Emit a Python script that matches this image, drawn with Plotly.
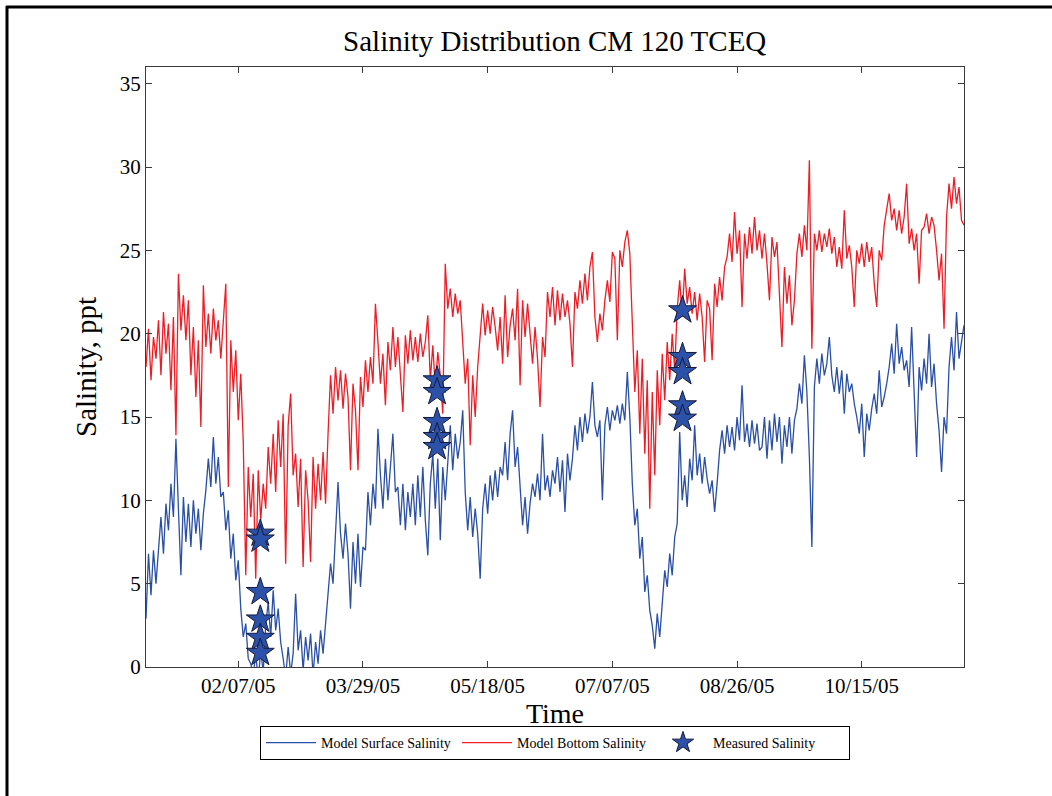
import numpy as np
import pandas as pd
import plotly.graph_objects as go

# ---------------- data (daily readings, starting 2005-01-01) ----------------
start_date = "2005-01-01"

bottom_salinity = [
    18.0, 20.3, 17.2, 19.8, 18.5,
    20.8, 17.5, 21.3, 18.8, 20.6, 16.6, 21.0,
    13.9, 23.6, 20.2, 22.3, 19.6, 22.0,
    17.5, 20.4, 16.2, 19.6, 14.4,
    22.9, 19.2, 21.2, 18.8, 21.5, 19.6, 20.8, 18.5, 21.0,
    23.0, 10.8,
    19.6, 16.5, 19.0, 14.8, 17.6,
    13.5, 5.5, 12.0, 9.0, 11.6,
    5.3, 11.8, 8.8, 11.0,
    9.5, 13.2, 11.0, 14.0, 10.5, 14.8, 12.0, 15.2, 6.2, 14.5, 16.4, 11.5,
    12.8, 9.6, 12.5, 6.0, 11.8, 10.0, 6.3, 12.6, 9.5, 12.2, 10.0, 12.9, 9.8,
    14.0, 17.5, 15.2, 18.0, 16.0, 17.8, 15.5, 17.6, 16.2,
    11.8, 17.0, 15.4, 11.8, 17.4, 15.6,
    18.4, 16.5, 18.6, 17.0,
    21.8,
    19.5, 17.0, 18.8, 15.7,
    19.5, 17.8, 20.4, 18.0, 19.8, 17.6, 15.3, 19.9, 18.2, 20.2, 18.4,
    19.8, 18.3, 20.0, 18.6, 19.5, 21.1,
    17.2, 19.3, 16.8, 18.9, 17.5, 15.2,
    24.2,
    21.5, 22.7, 21.0, 22.4, 21.2, 22.0,
    19.8, 17.0, 18.5, 13.3, 17.5, 15.0, 18.0,
    20.2, 21.8, 19.9, 21.4, 20.0, 21.6, 20.4,
    19.0, 21.0, 18.2, 22.3, 18.6, 20.5,
    21.5, 19.6, 22.7, 16.9, 22.0, 19.8, 21.8,
    20.0, 18.2, 20.4, 18.5, 15.6, 19.8, 18.6,
    22.5, 21.0, 22.8,
    20.5, 22.6, 20.8, 22.4, 21.0, 22.0, 20.6,
    18.0, 22.5, 21.5, 23.2, 21.8, 23.6, 22.0, 24.0,
    24.9,
    21.0, 19.5, 21.2, 20.2,
    22.0, 23.2, 21.9, 24.9,
    24.5, 19.6, 25.0, 24.0, 25.5, 26.2, 24.8,
    20.0, 16.5, 19.0,
    14.0, 18.5, 12.8, 17.2, 9.5, 16.5, 11.5, 17.8,
    14.5, 18.8, 16.0, 19.5, 17.2, 20.0, 17.8,
    21.5, 23.2, 21.0, 23.9, 21.8, 22.8,
    21.2, 22.5, 20.8, 22.4, 21.0, 18.3, 22.0,
    21.5, 18.4, 23.0, 21.6, 23.4, 22.0, 24.0,
    24.6, 26.0, 24.3, 27.3, 24.8, 26.2, 21.6, 26.0, 24.5, 26.4, 24.8, 27.0, 25.0, 26.2,
    24.5, 26.0, 24.2, 22.0, 25.8, 24.6, 25.5,
    22.5, 19.2, 24.0, 21.8, 23.5, 20.5, 22.0,
    24.8, 26.0, 24.6, 26.5, 25.0,
    30.4, 19.1,
    26.0, 25.0, 26.2, 24.9, 26.0, 25.2, 26.3, 24.8, 25.8,
    24.0, 25.2, 23.9, 27.4, 24.5, 25.3, 24.0, 21.6,
    25.0, 24.2, 25.4, 24.0, 25.5, 24.3, 25.2, 23.0, 21.6, 25.0, 24.4,
    26.5, 27.6, 28.4, 26.8, 27.5,
    26.2, 27.4, 26.0, 27.0,
    29.0,
    25.4, 26.3, 25.0, 26.0, 23.0, 26.2,
    26.4, 27.2, 26.0, 27.0, 26.5,
    25.0, 23.2, 24.8, 20.3,
    27.0, 29.0, 27.5, 29.4, 27.8, 28.8, 26.8, 26.5,
]

surface_salinity = [
    2.9, 6.8, 4.3, 7.0, 5.0,
    7.2, 9.0, 6.8, 9.8, 8.2, 11.0, 9.0, 13.7,
    9.5, 5.5, 10.2, 7.5, 9.8, 7.2, 10.0, 8.0, 9.5, 7.0, 9.2,
    10.6, 12.5, 10.8, 13.8, 11.0, 12.6, 10.2,
    10.5, 8.2, 9.4, 6.5, 8.0, 5.2, 6.4,
    3.5, 1.8, 2.6, 0.5, 0.2,
    -0.5, 0.8, -0.8, 1.0, -0.3,
    2.5, 3.9, 1.8, 4.6, 2.2, 3.5, 1.5,
    0.5, -0.6, 1.2, -0.4, 0.8,
    4.4, 1.0, 2.2, -0.2, 1.8, 0.4, 2.0, -0.5, 1.5, 0.2, 2.2, 0.8, 2.6,
    4.0, 6.2, 5.0, 8.5, 11.1, 8.0,
    6.5, 8.6, 6.8,
    3.5, 7.5, 5.0, 8.0, 4.8, 7.2,
    7.0, 10.5, 8.5, 11.0, 9.5,
    14.3,
    11.5, 9.5, 12.5, 10.0, 12.0, 14.0, 10.5,
    10.8, 8.5, 11.0, 8.2, 10.5, 9.0, 11.0,
    8.5, 11.5, 9.0, 12.0, 8.8, 6.7,
    11.0, 12.8, 9.5, 12.5, 7.6, 12.0, 10.0,
    12.0, 14.5, 11.8, 14.0, 12.5, 13.5, 15.4,
    10.5, 8.2, 10.2, 7.8, 9.5, 8.0, 5.3,
    9.5, 11.0, 9.2, 11.5, 10.0, 11.8, 10.2, 12.0,
    11.5, 13.5, 11.2, 14.0, 15.4, 12.0, 13.2,
    10.5, 8.5, 10.2, 8.0, 9.8,
    11.0, 10.2, 11.6, 10.0, 14.0, 10.6, 11.5, 10.2, 11.8,
    11.0, 12.6, 10.5, 12.4, 9.3, 12.8, 11.2,
    12.5, 14.5, 13.0, 15.0, 13.5, 15.2, 14.0, 15.0, 17.1,
    14.5, 13.8, 14.8, 10.0,
    14.5, 15.6, 14.2, 15.4, 14.8, 15.7, 14.6, 15.8, 14.8, 17.7, 15.0,
    11.0, 8.5, 9.5,
    6.5, 7.8, 4.5, 5.5, 3.4,
    2.5, 1.1, 3.2, 1.8,
    4.0, 5.8, 4.8, 6.8, 5.5, 7.8, 8.6,
    14.1, 10.0, 11.5, 9.6,
    12.5, 11.2, 14.5, 11.5, 12.8, 11.0, 12.6, 11.3,
    10.4, 11.2, 9.3, 11.0,
    13.0, 14.2, 12.8, 14.5, 13.2, 14.4, 13.0, 15.0, 13.6, 16.9, 13.5, 14.6, 13.2, 14.8, 13.4, 14.6, 13.0,
    13.2, 15.0, 12.5, 14.8, 13.0, 15.2,
    13.5, 15.0, 12.2, 14.5, 13.2, 15.0, 12.8, 14.8,
    15.5, 17.0, 15.8, 18.7, 16.5,
    12.6, 7.2,
    16.8, 18.5, 17.0, 18.8, 17.5, 18.2, 19.8,
    17.5, 16.5, 18.0, 16.4, 17.8, 15.2, 17.6, 16.5, 17.0, 15.8,
    15.0, 14.0, 15.8, 12.6, 15.2, 14.2,
    15.5, 16.4, 15.2, 17.8, 15.6, 16.2, 17.0,
    18.0, 19.4, 17.6, 20.6, 18.2, 19.2, 17.8,
    18.4, 16.8, 20.4, 17.0, 12.6, 18.0, 16.6, 18.5, 17.0, 20.0, 16.8, 18.2,
    15.8, 14.2, 11.7, 15.0, 14.0,
    18.0, 19.8, 17.8, 21.3, 18.5, 19.5, 20.5,
]

measured_dates = (
    ["2005-02-15 20:00"] * 6
    + ["2005-04-27 17:00"] * 5
    + ["2005-08-04 03:00"] * 5
)
measured_salinity = [8.0, 7.65, 4.5, 2.85, 1.75, 0.85,
                     17.2, 16.5, 14.7, 13.8, 13.2,
                     21.4, 18.6, 17.7, 15.7, 14.9]

tick_dates = ["2005-02-07", "2005-03-29", "2005-05-18",
              "2005-07-07", "2005-08-26", "2005-10-15"]
tick_labels = ["02/07/05", "03/29/05", "05/18/05",
               "07/07/05", "08/26/05", "10/15/05"]
y_ticks = [0, 5, 10, 15, 20, 25, 30, 35]

# ---------------- figure ----------------
t0 = pd.Timestamp(start_date)
dates_s = t0 + pd.to_timedelta(np.arange(len(surface_salinity)), unit="D")
dates_b = t0 + pd.to_timedelta(np.arange(len(bottom_salinity)), unit="D")

BLUE = "#2A4FA6"
RED = "#EE1D25"
SERIF = "Liberation Serif, Times New Roman, serif"

fig = go.Figure()
fig.add_trace(go.Scatter(x=dates_s, y=surface_salinity, mode="lines",
                         name="Model Surface Salinity",
                         line=dict(color=BLUE, width=1.3)))
fig.add_trace(go.Scatter(x=dates_b, y=bottom_salinity, mode="lines",
                         name="Model Bottom Salinity",
                         line=dict(color=RED, width=1.3)))
fig.add_trace(go.Scatter(x=pd.to_datetime(measured_dates), y=measured_salinity,
                         mode="markers", name="Measured Salinity",
                         marker=dict(symbol="star", size=21, color="#2B52A8",
                                     line=dict(color="#15193A", width=1))))

W, H = 1052, 796
L, R, T, B = 146, 88, 67, 129
pw, ph = W - L - R, H - T - B


def px(xp):
    return (xp - L) / pw


def py(yp):
    return (H - B - yp) / ph


axis_common = dict(showline=True, linecolor="#3a3a3a", linewidth=1, mirror="ticks",
                   ticks="inside", ticklen=6, tickcolor="#3a3a3a", showgrid=False,
                   zeroline=False, tickfont=dict(family=SERIF, size=21, color="black"))

fig.update_layout(
    width=W, height=H,
    margin=dict(l=L, r=R, t=T, b=B),
    paper_bgcolor="white", plot_bgcolor="white",
    title=dict(text="Salinity Distribution CM 120 TCEQ", x=554.7 / W,
               xanchor="center", y=1 - 41 / H, yanchor="middle",
               font=dict(family=SERIF, size=29, color="black")),
    xaxis=dict(range=[t0, t0 + pd.Timedelta(days=len(bottom_salinity) - 1)],
               tickvals=pd.to_datetime(tick_dates), ticktext=tick_labels,
               title=dict(text="Time", font=dict(family=SERIF, size=28, color="black"),
                          standoff=0),
               **axis_common),
    yaxis=dict(range=[0, 36], tickvals=y_ticks,
               title=dict(text="Salinity, ppt", font=dict(family=SERIF, size=29, color="black"),
                          standoff=14),
               **axis_common),
    showlegend=True,
    legend=dict(orientation="h", x=px(260), xanchor="left", y=py(726), yanchor="top",
                bordercolor="black", borderwidth=1, bgcolor="white",
                font=dict(family=SERIF, size=14, color="black"),
                entrywidth=131, itemwidth=50, traceorder="normal", tracegroupgap=0),
    shapes=[
        dict(type="line", xref="paper", yref="paper", x0=px(6), x1=px(1052),
             y0=py(7), y1=py(7), line=dict(color="black", width=3)),
        dict(type="line", xref="paper", yref="paper", x0=px(7), x1=px(7),
             y0=py(6), y1=py(796), line=dict(color="black", width=3)),
    ],
)

fig.write_html("out.html", config={"displayModeBar": False},
               post_script="document.body.style.margin='0';document.body.style.padding='0';")
